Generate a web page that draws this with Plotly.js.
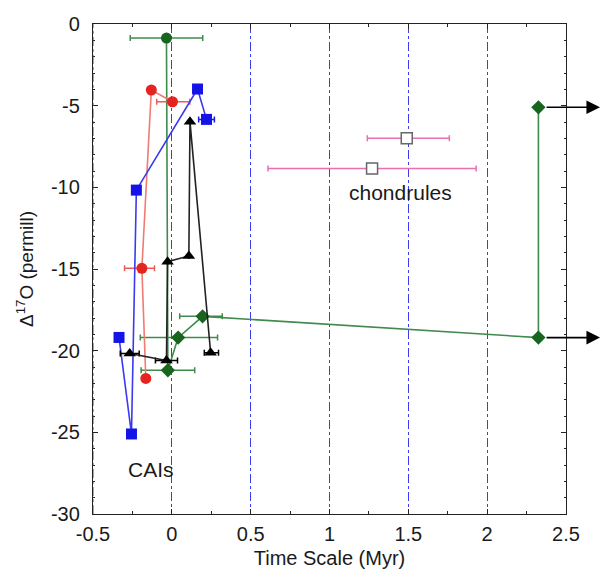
<!DOCTYPE html>
<html><head><meta charset="utf-8">
<script src="https://cdn.plot.ly/plotly-3.0.1.min.js"></script>
<style>html,body{margin:0;padding:0;background:#fff}</style>
</head><body><div id="chart" style="width:603px;height:574px"></div>
<script>
// Green series
const greenX = [-0.034, -0.025, 0.04, 0.195, 2.325, 2.325];
const greenY = [-0.86, -21.2, -19.2, -17.9, -19.2, -5.1];
const greenErrPlus = [0.23, 0.17, 0.25, 0.125, 0, 0];
const greenErrMinus = [0.23, 0.17, 0.24, 0.145, 0, 0];
const greenSymbols = ['circle', 'diamond', 'diamond', 'diamond', 'diamond', 'diamond'];
// Red series
const redX = [-0.165, -0.19, -0.13, 0.004];
const redY = [-21.7, -14.96, -4.04, -4.76];
const redErrPlus = [0, 0.08, 0, 0.11];
const redErrMinus = [0, 0.11, 0, 0.1];
// Blue series
const blueX = [-0.335, -0.256, -0.225, 0.163, 0.22];
const blueY = [-19.19, -25.1, -10.17, -3.98, -5.84];
const blueErrPlus = [0, 0, 0, 0, 0.05];
const blueErrMinus = [0, 0, 0, 0, 0.05];
// Black series
const blackX = [-0.267, -0.034, -0.027, 0.108, 0.115, 0.246];
const blackY = [-20.17, -20.6, -14.55, -14.2, -5.98, -20.13];
const blackErrPlus = [0.06, 0.07, 0, 0, 0, 0.05];
const blackErrMinus = [0.06, 0.07, 0, 0, 0, 0.04];
// Chondrules
const chondX = [1.49, 1.27];
const chondY = [-7.0, -8.84];
const chondErrPlus = [0.27, 0.66];
const chondErrMinus = [0.25, 0.66];
// Arrows (y levels)
const arrowY = [-5.1, -19.2];
// Ticks
const xTickVals = [-0.5, 0, 0.5, 1, 1.5, 2, 2.5];
const xTickText = ['-0.5', '0', '0.5', '1', '1.5', '2', '2.5'];
const yTickVals = [0, -5, -10, -15, -20, -25, -30];
const yTickText = ['0', '-5', '-10', '-15', '-20', '-25', '-30'];

const FONT = 'Liberation Sans, Arial, sans-serif';
const TXT = '#1a1a1a';

function series(x, y, ep, em, color, lineColor, symbol, ebColor) {
  return {
    x: x, y: y, type: 'scatter', mode: 'lines+markers',
    line: {color: lineColor, width: 1.6},
    marker: {color: color, size: 11, symbol: symbol},
    error_x: {type: 'data', symmetric: false, array: ep, arrayminus: em,
      color: ebColor, thickness: 1.5, width: 3},
    cliponaxis: false, showlegend: false, hoverinfo: 'skip'
  };
}

const traces = [
  series(greenX, greenY, greenErrPlus, greenErrMinus, '#17651f', '#3f8a4c', greenSymbols, '#3f8a4c'),
  series(redX, redY, redErrPlus, redErrMinus, '#e52420', '#f07a74', 'circle', '#ee5a55'),
  series(blueX, blueY, blueErrPlus, blueErrMinus, '#1414e6', '#3a3af0', 'square', '#1a1ae6'),
  series(blackX, blackY, blackErrPlus, blackErrMinus, '#000000', '#222222', 'triangle-up', '#000000'),
  {
    x: chondX, y: chondY, type: 'scatter', mode: 'markers',
    marker: {color: '#ffffff', size: 11, symbol: 'square', line: {color: '#666666', width: 1.5}},
    error_x: {type: 'data', symmetric: false, array: chondErrPlus, arrayminus: chondErrMinus,
      color: '#e86fb0', thickness: 1.5, width: 3},
    showlegend: false, hoverinfo: 'skip'
  }
];

const annotations = [
  {x: 1.45, y: -10.3, xref: 'x', yref: 'y', text: 'chondrules', showarrow: false,
   font: {family: FONT, size: 21, color: TXT}},
  {x: -0.13, y: -27.3, xref: 'x', yref: 'y', text: 'CAIs', showarrow: false,
   font: {family: FONT, size: 21, color: TXT}}
];
arrowY.forEach(function (yv) {
  annotations.push({
    x: 1.072, y: yv, xref: 'paper', yref: 'y', ax: -55, ay: 0, axref: 'pixel', ayref: 'pixel',
    text: '', showarrow: true, arrowhead: 2, arrowsize: 1.7, arrowwidth: 1.6, arrowcolor: '#000'
  });
});

const layout = {
  width: 603, height: 574,
  margin: {l: 93, r: 37, t: 24, b: 60},
  paper_bgcolor: '#ffffff', plot_bgcolor: '#ffffff',
  font: {family: FONT, size: 20, color: TXT},
  xaxis: {
    range: [-0.5, 2.5], tickvals: xTickVals, ticktext: xTickText,
    showgrid: true, gridcolor: '#3c3cf0', griddash: 'dashdot', gridwidth: 1,
    zeroline: false, showline: true, linecolor: '#222', linewidth: 1.2, mirror: 'allticks',
    ticks: 'inside', ticklen: 5, tickcolor: '#222', ticklabelstandoff: 2,
    minor: {dtick: 0.25, tick0: 0, ticks: 'inside', ticklen: 3, tickcolor: '#222', showgrid: false},
    title: {text: 'Time Scale (Myr)', font: {family: FONT, size: 20, color: TXT}, standoff: 6},
    tickfont: {family: FONT, size: 20, color: TXT}
  },
  yaxis: {
    range: [-30, 0], tickvals: yTickVals, ticktext: yTickText,
    showgrid: false, zeroline: false, showline: true, linecolor: '#222', linewidth: 1.2, mirror: 'allticks',
    ticks: 'inside', ticklen: 5, tickcolor: '#222', ticklabelstandoff: 8,
    minor: {dtick: 1, tick0: 0, ticks: 'inside', ticklen: 2, tickcolor: '#222', showgrid: false},
    title: {text: 'Δ<sup>17</sup>O (permill)', font: {family: FONT, size: 19, color: TXT}, standoff: 12},
    tickfont: {family: FONT, size: 20, color: TXT}
  },
  shapes: [
    {type: 'line', xref: 'x', yref: 'paper', x0: -0.5, x1: -0.5, y0: 0, y1: 1,
     line: {color: '#3c3cf0', width: 1, dash: 'dashdot'}}
  ],
  annotations: annotations
};

Plotly.newPlot('chart', traces, layout, {displayModeBar: false, staticPlot: true});
</script>
</body></html>
